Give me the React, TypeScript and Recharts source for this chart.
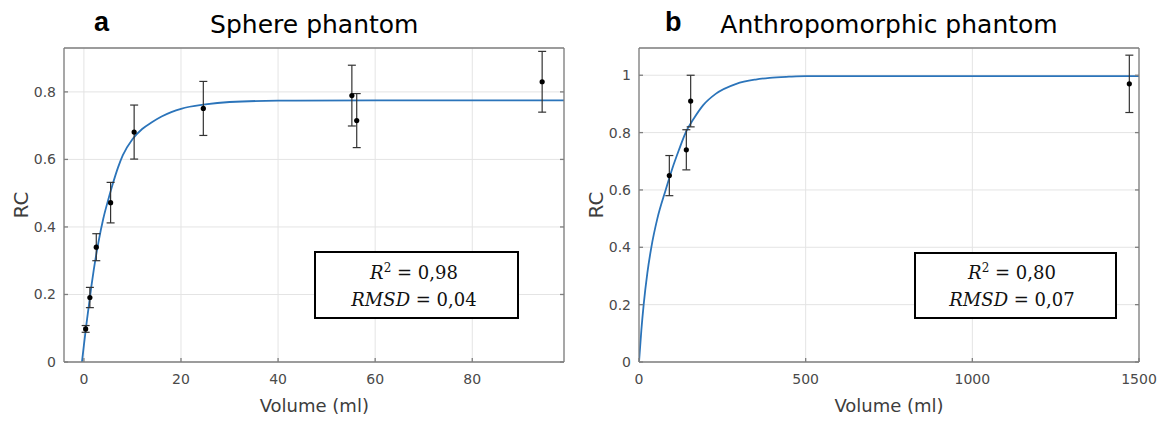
import React from 'react';
import { ComposedChart, Line, Scatter, ErrorBar, XAxis, YAxis, CartesianGrid } from 'recharts';

// ---- Panel a: Sphere phantom ----
const sphereVolume = [0.36, 1.23, 2.55, 5.5, 10.35, 24.6, 55.2, 56.2, 94.4];
const sphereRC = [0.098, 0.191, 0.34, 0.472, 0.681, 0.751, 0.789, 0.715, 0.83];
const sphereErr = [0.01, 0.03, 0.04, 0.06, 0.08, 0.08, 0.09, 0.08, 0.09];
const sphereFitVolume = [-0.4, 0, 0.5, 1, 1.5, 2, 3, 4, 5, 6, 7, 8, 10, 12, 14, 16, 18, 20, 25, 30, 40, 60, 98.9];
const sphereFitRC = [0, 0.05, 0.11, 0.165, 0.22, 0.27, 0.355, 0.425, 0.48, 0.53, 0.575, 0.612, 0.66, 0.69, 0.71, 0.727, 0.74, 0.75, 0.763, 0.77, 0.774, 0.775, 0.775];
const sphereXTicks = [0, 20, 40, 60, 80];
const sphereYTicks = [0, 0.2, 0.4, 0.6, 0.8];
const sphereXDomain = [-4.1, 98.9];
const sphereYDomain = [0, 0.93];

// ---- Panel b: Anthropomorphic phantom ----
const anthroVolume = [91, 142, 155, 1471];
const anthroRC = [0.65, 0.74, 0.91, 0.97];
const anthroErr = [0.07, 0.07, 0.09, 0.1];
const anthroFitVolume = [0, 7, 14, 25, 37, 55, 80, 100, 120, 140, 165, 192, 230, 292, 350, 392, 450, 500, 600, 1500];
const anthroFitRC = [0, 0.11, 0.2, 0.31, 0.4, 0.5, 0.6, 0.675, 0.74, 0.8, 0.85, 0.895, 0.935, 0.97, 0.985, 0.991, 0.995, 0.997, 0.997, 0.997];
const anthroXTicks = [0, 500, 1000, 1500];
const anthroYTicks = [0, 0.2, 0.4, 0.6, 0.8, 1];
const anthroXDomain = [0, 1500];
const anthroYDomain = [0, 1.095];

const titles = ['Sphere phantom', 'Anthropomorphic phantom'];
const panelLetters = ['a', 'b'];
const r2Labels = ['0,98', '0,80'];
const rmsdLabels = ['0,04', '0,07'];

const pts = (xs: number[], ys: number[], es: number[]) => xs.map((x, i) => ({ x, y: ys[i], err: es[i] }));
const fit = (xs: number[], ys: number[]) => xs.map((x, i) => ({ x, y: ys[i] }));

const AXIS = '#7f7f7f';
const TICK = { fontSize: 14, fill: '#4a4a4a', fontFamily: 'DejaVu Sans' };
const BLUE = '#2b74ba';

const Dot = (p: any) => <circle cx={p.cx} cy={p.cy} r={2.6} fill="#000" />;

type PanelProps = {
  width: number;
  marginLeftAxis: number;
  marginRight: number;
  points: any[];
  curve: any[];
  xTicks: number[];
  yTicks: number[];
  xDomain: number[];
  yDomain: number[];
};

function Panel({ width, marginLeftAxis, marginRight, points, curve, xTicks, yTicks, xDomain, yDomain }: PanelProps) {
  return (
    <ComposedChart width={width} height={421} margin={{ top: 47, right: marginRight, left: 0, bottom: 0 }}>
      <CartesianGrid stroke="#e4e4e4" strokeWidth={1} />
      <XAxis
        xAxisId={0}
        type="number"
        dataKey="x"
        domain={xDomain}
        ticks={xTicks}
        allowDataOverflow
        interval={0}
        height={59}
        tickSize={-4}
        tickMargin={16}
        stroke={AXIS}
        strokeWidth={1.3}
        tick={TICK}
      />
      <XAxis
        xAxisId="top"
        orientation="top"
        type="number"
        domain={xDomain}
        ticks={xTicks}
        allowDataOverflow
        interval={0}
        height={1}
        tickSize={-4}
        tickFormatter={() => ''}
        stroke={AXIS}
        strokeWidth={1.3}
      />
      <YAxis
        yAxisId={0}
        type="number"
        domain={yDomain}
        ticks={yTicks}
        allowDataOverflow
        interval={0}
        width={marginLeftAxis}
        tickSize={-4}
        tickMargin={12}
        stroke={AXIS}
        strokeWidth={1.3}
        tick={TICK}
      />
      <YAxis
        yAxisId="right"
        orientation="right"
        type="number"
        domain={yDomain}
        ticks={yTicks}
        allowDataOverflow
        interval={0}
        width={1}
        tickSize={-4}
        tickFormatter={() => ''}
        stroke={AXIS}
        strokeWidth={1.3}
      />
      <Line
        data={curve}
        dataKey="y"
        type="monotone"
        stroke={BLUE}
        strokeWidth={1.8}
        dot={false}
        activeDot={false}
        isAnimationActive={false}
      />
      <Scatter data={points} dataKey="y" shape={Dot} isAnimationActive={false}>
        <ErrorBar dataKey="err" direction="y" width={4} stroke="#333" strokeWidth={1.2} isAnimationActive={false} />
      </Scatter>
    </ComposedChart>
  );
}

function StatBox({ x, y, w, h, cx, r2, rmsd }: { x: number; y: number; w: number; h: number; cx: number; r2: string; rmsd: string }) {
  return (
    <g>
      <rect x={x} y={y} width={w} height={h} fill="#fff" stroke="#000" strokeWidth={2} />
      <text x={cx} y={279} textAnchor="middle" fontFamily="DejaVu Serif" fontSize={18} fill="#111">
        <tspan fontStyle="italic">R</tspan>
        <tspan fontSize={12} dy={-7}>2</tspan>
        <tspan dy={7}>{' = ' + r2}</tspan>
      </text>
      <text x={cx} y={306} textAnchor="middle" fontFamily="DejaVu Serif" fontSize={18} fill="#111">
        <tspan fontStyle="italic">RMSD</tspan>
        <tspan>{' = ' + rmsd}</tspan>
      </text>
    </g>
  );
}

export default function App() {
  const sphereData = pts(sphereVolume, sphereRC, sphereErr);
  const sphereCurve = fit(sphereFitVolume, sphereFitRC);
  const anthroData = pts(anthroVolume, anthroRC, anthroErr);
  const anthroCurve = fit(anthroFitVolume, anthroFitRC);
  return (
    <div style={{ position: 'absolute', left: 0, top: 0, width: 1169, height: 421, background: '#fff', overflow: 'hidden' }}>
      <div style={{ position: 'absolute', left: 0, top: 0 }}>
        <Panel
          width={580}
          marginLeftAxis={64}
          marginRight={15}
          points={sphereData}
          curve={sphereCurve}
          xTicks={sphereXTicks}
          yTicks={sphereYTicks}
          xDomain={sphereXDomain}
          yDomain={sphereYDomain}
        />
      </div>
      <div style={{ position: 'absolute', left: 580, top: 0 }}>
        <Panel
          width={589}
          marginLeftAxis={59}
          marginRight={29}
          points={anthroData}
          curve={anthroCurve}
          xTicks={anthroXTicks}
          yTicks={anthroYTicks}
          xDomain={anthroXDomain}
          yDomain={anthroYDomain}
        />
      </div>
      <svg width={1169} height={421} style={{ position: 'absolute', left: 0, top: 0, pointerEvents: 'none' }}>
        <text x={94} y={30.5} fontFamily="Liberation Sans" fontWeight="bold" fontSize={27} fill="#000">{panelLetters[0]}</text>
        <text x={665} y={31} fontFamily="Liberation Sans" fontWeight="bold" fontSize={27} fill="#000">{panelLetters[1]}</text>
        <text x={314.3} y={33.3} textAnchor="middle" fontFamily="DejaVu Sans" fontSize={25} fill="#000">{titles[0]}</text>
        <text x={889} y={33.3} textAnchor="middle" fontFamily="DejaVu Sans" fontSize={25} fill="#000">{titles[1]}</text>
        <text x={314.3} y={412} textAnchor="middle" fontFamily="DejaVu Sans" fontSize={18} fill="#3d3d3d">Volume (ml)</text>
        <text x={889} y={412} textAnchor="middle" fontFamily="DejaVu Sans" fontSize={18} fill="#3d3d3d">Volume (ml)</text>
        <text x={27.5} y={205} textAnchor="middle" transform="rotate(-90 27.5 205)" fontFamily="DejaVu Sans" fontSize={20} fill="#3d3d3d">RC</text>
        <text x={602.5} y={205} textAnchor="middle" transform="rotate(-90 602.5 205)" fontFamily="DejaVu Sans" fontSize={20} fill="#3d3d3d">RC</text>
        <StatBox x={315} y={252} w={203} h={66} cx={414} r2={r2Labels[0]} rmsd={rmsdLabels[0]} />
        <StatBox x={915} y={253} w={201} h={65} cx={1012} r2={r2Labels[1]} rmsd={rmsdLabels[1]} />
      </svg>
    </div>
  );
}
